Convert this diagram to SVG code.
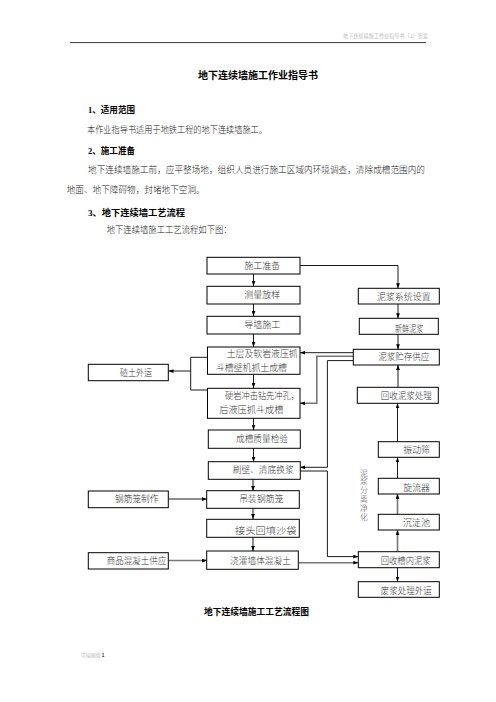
<svg xmlns="http://www.w3.org/2000/svg" width="496" height="702" viewBox="0 0 496 702">
<defs>
<style>
.t{font-family:"Liberation Serif","Noto Sans CJK SC",serif;font-size:8.6px;fill:#222;font-weight:300}
.b{font-family:"Liberation Serif","Noto Sans CJK SC",serif;font-weight:bold;fill:#000}
.n{font-family:"Liberation Serif","Noto Sans CJK SC",serif;font-size:8.6px;fill:#333;font-weight:300}
.v{font-family:"Liberation Serif","Noto Sans CJK SC",serif;font-size:7.8px;fill:#555;font-weight:300}
.box{fill:#fff;stroke:#000;stroke-width:1}
.c{fill:none;stroke:#000;stroke-width:0.9}
.g{fill:none;stroke:#777;stroke-width:1.6}
</style>
<marker id="a" viewBox="0 0 8 6" refX="8" refY="3" markerWidth="5" markerHeight="4" markerUnits="userSpaceOnUse" orient="auto">
<path d="M0,0L8,3L0,6z" fill="#000"/>
</marker>
</defs>
<rect width="496" height="702" fill="#fff"/>
<text x="343" y="37.5" style="font-family:'Noto Sans CJK SC',sans-serif;font-size:5.2px;fill:#bbb" textLength="85" lengthAdjust="spacingAndGlyphs">地下连续墙施工作业指导书（1）答案</text>
<line x1="70" y1="42.6" x2="426" y2="42.6" stroke="#000" stroke-width="0.8"/>
<text class="b" x="258" y="79.3" font-size="10" text-anchor="middle" textLength="120" lengthAdjust="spacingAndGlyphs">地下连续墙施工作业指导书</text>
<text class="b" x="88" y="113.3" font-size="8.8" textLength="47" lengthAdjust="spacingAndGlyphs">1、适用范围</text>
<text class="t" x="87" y="133.3" textLength="180" lengthAdjust="spacingAndGlyphs">本作业指导书适用于地铁工程的地下连续墙施工。</text>
<text class="b" x="88" y="154.3" font-size="8.8" textLength="47" lengthAdjust="spacingAndGlyphs">2、施工准备</text>
<text class="t" x="88" y="173.3" textLength="337" lengthAdjust="spacingAndGlyphs">地下连续墙施工前，应平整场地，组织人员进行施工区域内环境调查，清除成槽范围内的</text>
<text class="t" x="66.7" y="193.3" textLength="138" lengthAdjust="spacingAndGlyphs">地面、地下障碍物，封堵地下空洞。</text>
<text class="b" x="88" y="216" font-size="8.8" textLength="97" lengthAdjust="spacingAndGlyphs">3、地下连续墙工艺流程</text>
<text class="t" x="106.7" y="233.3" textLength="125" lengthAdjust="spacingAndGlyphs">地下连续墙施工工艺流程如下图：</text>

<g id="connectors">
<line class="c" x1="253.5" y1="274" x2="253.5" y2="286" marker-end="url(#a)"/>
<line class="c" x1="253.5" y1="304" x2="253.5" y2="316" marker-end="url(#a)"/>
<line class="c" x1="253.5" y1="334" x2="253.5" y2="347" marker-end="url(#a)"/>
<line class="c" x1="253.5" y1="374" x2="253.5" y2="388" marker-end="url(#a)"/>
<line class="c" x1="253.5" y1="418" x2="253.5" y2="430" marker-end="url(#a)"/>
<line class="c" x1="253.5" y1="448" x2="253.5" y2="462" marker-end="url(#a)"/>
<line class="c" x1="253" y1="479" x2="253" y2="491" marker-end="url(#a)"/>
<line class="c" x1="253" y1="508" x2="253" y2="519" marker-end="url(#a)"/>
<line class="c" x1="253" y1="537" x2="253" y2="551" marker-end="url(#a)"/>
<polyline class="c" points="207,357.3 190.7,357.3 190.7,390 207,390"/>
<line class="c" x1="190.7" y1="371" x2="168.5" y2="371" marker-end="url(#a)"/>
<line class="c" x1="168.5" y1="499" x2="207" y2="499" marker-end="url(#a)"/>
<line class="g" x1="168.5" y1="560.5" x2="207" y2="560.5" marker-end="url(#a)"/>
<polyline class="c" points="300,265.5 398,265.5 398,288.3" marker-end="url(#a)"/>
<line class="c" x1="398" y1="304" x2="398" y2="318.3" marker-end="url(#a)"/>
<line class="c" x1="398" y1="334.3" x2="398" y2="349.3" marker-end="url(#a)"/>
<line class="c" x1="398" y1="387.3" x2="398" y2="365" marker-end="url(#a)"/>
<line class="c" x1="397.5" y1="441.7" x2="397.5" y2="403.3" marker-end="url(#a)"/>
<line class="c" x1="397.5" y1="478.3" x2="397.5" y2="457.3" marker-end="url(#a)"/>
<line class="g" x1="397.5" y1="514.3" x2="397.5" y2="494" marker-end="url(#a)"/>
<line class="g" x1="397.5" y1="551.7" x2="397.5" y2="530" marker-end="url(#a)"/>
<line class="c" x1="397.5" y1="567.7" x2="397.5" y2="581.7" marker-end="url(#a)"/>
<line class="c" x1="353.3" y1="352.7" x2="300" y2="352.7" marker-end="url(#a)"/>
<polyline class="g" points="353.3,356.3 316.8,356.3 316.8,403.3 300,403.3" marker-end="url(#a)"/>
<polyline class="c" points="353.3,360.6 327.4,360.6 327.4,467.3 300,467.3" marker-end="url(#a)"/>
<polyline class="c" points="300,471 327.4,471 327.4,556.6 358.3,556.6" marker-end="url(#a)"/>
<line class="g" x1="298.3" y1="562.7" x2="358.3" y2="562.7" marker-end="url(#a)"/>
</g>

<g id="n1"><rect class="box" x="207" y="257.3" width="93" height="16.7"/><text class="n" x="244.3" y="268.6" textLength="36" lengthAdjust="spacingAndGlyphs">施工准备</text></g>
<g id="n2"><rect class="box" x="207" y="286.3" width="93" height="17.7"/><text class="n" x="244.3" y="297.8" textLength="36" lengthAdjust="spacingAndGlyphs">测量放样</text></g>
<g id="n3"><rect class="box" x="207" y="316.3" width="93" height="17.7"/><text class="n" x="244.3" y="327.8" textLength="36" lengthAdjust="spacingAndGlyphs">导墙施工</text></g>
<g id="n4"><rect class="box" x="207.5" y="347" width="92.5" height="27.3"/><text class="n" x="226.7" y="356.5" textLength="71" lengthAdjust="spacingAndGlyphs">土层及软岩液压抓</text><text class="n" x="216" y="371" textLength="71" lengthAdjust="spacingAndGlyphs">斗槽壁机抓土成槽</text></g>
<g id="n5"><rect class="box" x="207.5" y="388.3" width="92.5" height="30"/><text class="n" x="225" y="398.6" textLength="74" lengthAdjust="spacingAndGlyphs">硬岩冲击钻先冲孔，</text><text class="n" x="219.3" y="413" textLength="64" lengthAdjust="spacingAndGlyphs">后液压抓斗成槽</text></g>
<g id="n6"><rect class="box" x="208.3" y="430" width="92" height="18.3"/><text class="n" x="236" y="442" textLength="52" lengthAdjust="spacingAndGlyphs">成槽质量检验</text></g>
<g id="n7"><rect class="box" x="208.3" y="461.7" width="92" height="17.6"/><text class="n" x="232.7" y="473" textLength="61" lengthAdjust="spacingAndGlyphs">刷壁、清底换浆</text></g>
<g id="n8"><rect class="box" x="206.7" y="490.7" width="92.6" height="17.6"/><text class="n" x="239.3" y="502.2" textLength="44" lengthAdjust="spacingAndGlyphs">吊装钢筋笼</text></g>
<g id="n9"><rect class="box" x="206.7" y="519.3" width="92.6" height="18"/><text class="n" x="235" y="533.5" textLength="61.5" lengthAdjust="spacingAndGlyphs">接头回填沙袋</text></g>
<g id="n10"><rect class="box" x="206.7" y="551" width="91.6" height="18.3"/><text class="n" x="230" y="563.5" textLength="61" lengthAdjust="spacingAndGlyphs">浇灌墙体混凝土</text></g>
<g id="n11"><rect class="box" x="88.3" y="364.3" width="80" height="16.4"/><text class="n" x="120" y="376" textLength="32" lengthAdjust="spacingAndGlyphs">碴土外运</text></g>
<g id="n12"><rect class="box" x="88.3" y="491" width="80" height="16.7"/><text class="n" x="115" y="502.3" textLength="43.3" lengthAdjust="spacingAndGlyphs">钢筋笼制作</text></g>
<g id="n13"><rect class="box" x="88.3" y="552.7" width="80" height="16.3"/><text class="n" x="106.7" y="564" textLength="59.5" lengthAdjust="spacingAndGlyphs">商品混凝土供应</text></g>
<g id="n14"><rect class="box" x="358.3" y="288.3" width="81" height="15.7"/><text class="n" x="376.7" y="299.5" textLength="54" lengthAdjust="spacingAndGlyphs">泥浆系统设置</text></g>
<g id="n15"><rect class="box" x="359.3" y="318.3" width="79" height="16"/><text class="n" x="395" y="331.5" textLength="28.3" lengthAdjust="spacingAndGlyphs">新鲜泥浆</text></g>
<g id="n16"><rect class="box" x="353.3" y="349.3" width="86" height="15.7"/><text class="n" x="378.3" y="360.3" textLength="51" lengthAdjust="spacingAndGlyphs">泥浆贮存供应</text></g>
<g id="n17"><rect class="box" x="357.3" y="387.3" width="81" height="16"/><text class="n" x="380.7" y="399.3" textLength="51" lengthAdjust="spacingAndGlyphs">回收泥浆处理</text></g>
<g id="n18"><rect class="box" x="378.3" y="441.7" width="61" height="15.6"/><text class="n" x="403.3" y="453.3" textLength="26.7" lengthAdjust="spacingAndGlyphs">振动筛</text></g>
<g id="n19"><rect class="box" x="378.3" y="478.3" width="61" height="15.7"/><text class="n" x="403.3" y="490.5" textLength="26.7" lengthAdjust="spacingAndGlyphs">旋流器</text></g>
<g id="n20"><rect class="box" x="378.3" y="514.3" width="61" height="15.7"/><text class="n" x="402.7" y="526" textLength="27.3" lengthAdjust="spacingAndGlyphs">沉淀池</text></g>
<g id="n21"><rect class="box" x="358.3" y="551.7" width="81" height="16"/><text class="n" x="380.7" y="564" textLength="50" lengthAdjust="spacingAndGlyphs">回收槽内泥浆</text></g>
<g id="n22"><rect class="box" x="358.3" y="581.7" width="81" height="15.6"/><text class="n" x="380.7" y="593.8" textLength="51" lengthAdjust="spacingAndGlyphs">废浆处理外运</text></g>
<g id="label-sep">
<text class="v" x="364" y="475.5" text-anchor="middle">泥</text>
<text class="v" x="364" y="484.3" text-anchor="middle">浆</text>
<text class="v" x="364" y="493.1" text-anchor="middle">分</text>
<text class="v" x="364" y="501.9" text-anchor="middle">离</text>
<text class="v" x="364" y="510.7" text-anchor="middle">净</text>
<text class="v" x="364" y="519.5" text-anchor="middle">化</text>
</g>
<text class="b" x="204" y="615" font-size="9" textLength="105" lengthAdjust="spacingAndGlyphs">地下连续墙施工工艺流程图</text>
<text x="80.7" y="657" style="font-family:'Noto Sans CJK SC',sans-serif;font-size:5px;fill:#bbb" textLength="20" lengthAdjust="spacingAndGlyphs">可编辑版</text>
<text x="101.5" y="657" style="font-family:'Liberation Sans',sans-serif;font-size:5.5px;fill:#000">1</text>
</svg>
